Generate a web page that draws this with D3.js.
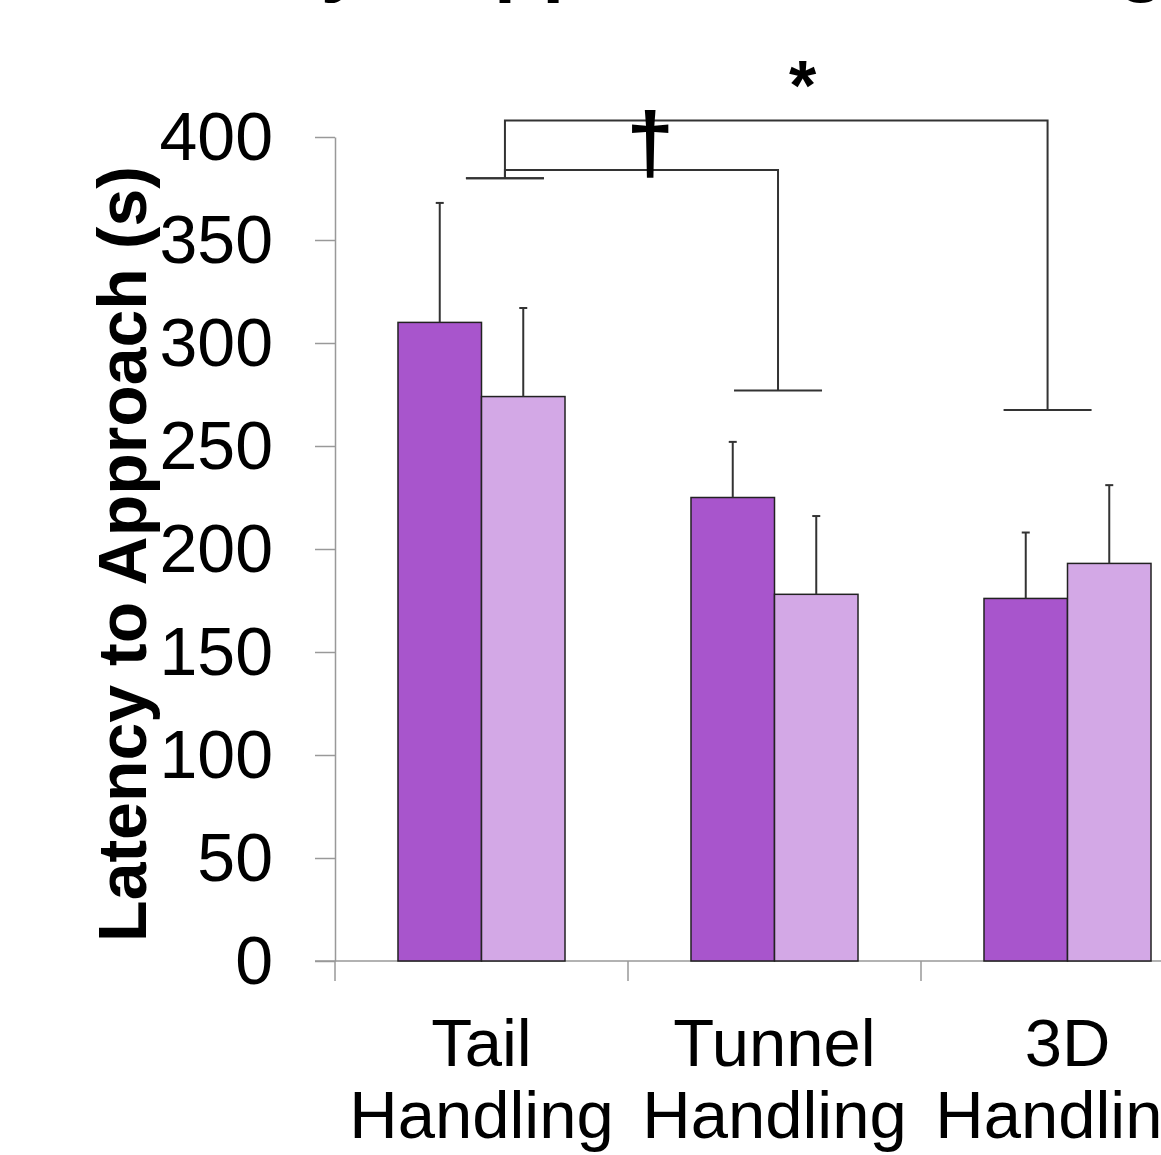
<!DOCTYPE html>
<html>
<head>
    <script src="https://d3js.org/d3.v7.min.js" charset="utf-8"></script>
    <style>
        body { margin: 0; background: #fff; }
        svg { display: block; font-family: "Liberation Sans", Arial, sans-serif; }
    </style>
</head>
<body>
<script>
    // values
    const categories = ["Tail Handling", "Tunnel Handling", "3D Handling"];
    const categoryLines = [["Tail", "Handling"], ["Tunnel", "Handling"], ["3D", "Handling"]];
    const seriesNames = ["Group 1", "Group 2"];
    const meansGroup1 = [310, 225, 176];
    const meansGroup2 = [274, 178, 193];
    const errGroup1 = [58, 27, 32];
    const errGroup2 = [43, 38, 38];
    const yTicks = [0, 50, 100, 150, 200, 250, 300, 350, 400];
    const yLabel = "Latency to Approach (s)";
    const titleWords = ["Latency", "Approach Handling"];

    // significance brackets (levels in seconds)
    const bracketFrom = ["Tail Handling", "Tail Handling"];
    const bracketTo = ["Tunnel Handling", "3D Handling"];
    const bracketTop = [384, 408];
    const bracketFootFrom = [380, 380];
    const bracketFootTo = [277, 267.5];
    const bracketMarks = ["\u2020", "*"];

    const colors = ["#a855cc", "#d3a8e6"];
    const W = 1161, H = 1155;
    const margin = {left: 335, top: 137, bottom: 194};

    const rows = categories.map((c, i) => ({
        cat: c,
        vals: [
            {s: seriesNames[0], v: meansGroup1[i], e: errGroup1[i]},
            {s: seriesNames[1], v: meansGroup2[i], e: errGroup2[i]}
        ]
    }));

    const svg = d3.select("body").append("svg")
        .attr("width", W).attr("height", H);

    const y = d3.scaleLinear().domain([0, 400]).range([H - margin.bottom, margin.top]);
    const x = d3.scaleBand().domain(categories).range([margin.left, margin.left + 3 * 293]);
    const bw = x.bandwidth();
    const x1 = d3.scaleBand().domain(seriesNames).range([bw * 0.215, bw * 0.785]);

    // title, almost all of it above the top edge
    const title = svg.append("text")
        .attr("y", -14)
        .style("font-weight", "bold")
        .style("font-size", "79px");
    title.append("tspan").attr("x", 66).text(titleWords[0]);
    title.append("tspan").attr("x", 437).text(titleWords[1]);

    // y axis
    const yAxis = svg.append("g")
        .attr("transform", `translate(${margin.left},0)`)
        .call(d3.axisLeft(y).tickValues(yTicks).tickSize(20).tickSizeOuter(0).tickPadding(42));
    yAxis.selectAll("path, line").attr("stroke", "#999").attr("stroke-width", 1.5);
    yAxis.selectAll("text")
        .style("font-size", "68px")
        .style("font-family", "'Liberation Sans', Arial, sans-serif")
        .attr("fill", "#000")
        .attr("dy", "0.33em");

    svg.append("text")
        .attr("transform", `translate(146,${(y(0) + y(400)) / 2 + 5}) rotate(-90)`)
        .attr("text-anchor", "middle")
        .style("font-size", "68px")
        .style("font-weight", "bold")
        .text(yLabel);

    // x axis
    const y0 = y(0);
    svg.append("line")
        .attr("x1", margin.left - 20).attr("x2", W)
        .attr("y1", y0).attr("y2", y0)
        .attr("stroke", "#999").attr("stroke-width", 1.5);
    svg.selectAll("line.xtick").data(categories).join("line")
        .attr("class", "xtick")
        .attr("x1", d => x(d)).attr("x2", d => x(d))
        .attr("y1", y0).attr("y2", y0 + 20)
        .attr("stroke", "#999").attr("stroke-width", 1.5);

    const xl = svg.selectAll("text.xlab").data(categories).join("text")
        .attr("class", "xlab")
        .attr("text-anchor", "middle")
        .style("font-size", "67px");
    xl.selectAll("tspan").data((d, i) => categoryLines[i].map(t => ({t, c: d}))).join("tspan")
        .attr("x", d => x(d.c) + bw / 2)
        .attr("y", (d, j) => 1066 + j * 72)
        .text(d => d.t);

    // bars
    const g = svg.selectAll("g.grp").data(rows).join("g")
        .attr("class", "grp")
        .attr("transform", d => `translate(${x(d.cat)},0)`);

    g.selectAll("rect").data(d => d.vals).join("rect")
        .attr("x", d => x1(d.s))
        .attr("width", x1.bandwidth())
        .attr("y", d => y(d.v))
        .attr("height", d => y0 - y(d.v))
        .attr("fill", (d, i) => colors[i])
        .attr("stroke", "#222").attr("stroke-width", 1.5);

    // error bars (upper only)
    g.selectAll("line.err").data(d => d.vals).join("line")
        .attr("class", "err")
        .attr("x1", d => x1(d.s) + x1.bandwidth() / 2)
        .attr("x2", d => x1(d.s) + x1.bandwidth() / 2)
        .attr("y1", d => y(d.v)).attr("y2", d => y(d.v + d.e))
        .attr("stroke", "#333").attr("stroke-width", 2);
    g.selectAll("line.cap").data(d => d.vals).join("line")
        .attr("class", "cap")
        .attr("x1", d => x1(d.s) + x1.bandwidth() / 2 - 4)
        .attr("x2", d => x1(d.s) + x1.bandwidth() / 2 + 4)
        .attr("y1", d => y(d.v + d.e)).attr("y2", d => y(d.v + d.e))
        .attr("stroke", "#333").attr("stroke-width", 2);

    // brackets
    const footShift = {"Tail Handling": 0.08, "Tunnel Handling": 0.012, "3D Handling": -0.068};
    const footHalf = 42;
    const markShift = [0.03, 0.09];
    const cx = c => x(c) + bw / 2 + footShift[c] * bw;

    bracketFrom.forEach((from, i) => {
        const xa = cx(from), xb = cx(bracketTo[i]);
        const yt = y(bracketTop[i]);
        const b = svg.append("g").attr("stroke", "#333").attr("stroke-width", 2).attr("fill", "none");
        b.append("path").attr("d",
            `M${xa},${y(bracketFootFrom[i])}V${yt}H${xb}V${y(bracketFootTo[i])}`);
        b.append("line")
            .attr("x1", xa - footHalf + 3).attr("x2", xa + footHalf - 3)
            .attr("y1", y(bracketFootFrom[i])).attr("y2", y(bracketFootFrom[i]));
        b.append("line")
            .attr("x1", xb - footHalf - 2).attr("x2", xb + footHalf + 2)
            .attr("y1", y(bracketFootTo[i])).attr("y2", y(bracketFootTo[i]));
    });

    // marks
    svg.append("text")
        .attr("x", (cx(bracketFrom[0]) + cx(bracketTo[0])) / 2 + markShift[0] * bw)
        .attr("y", 172)
        .attr("text-anchor", "middle")
        .style("font-size", "86px").style("font-weight", "bold")
        .text(bracketMarks[0]);
    svg.append("text")
        .attr("x", (cx(bracketFrom[1]) + cx(bracketTo[1])) / 2 + markShift[1] * bw)
        .attr("y", 110)
        .attr("text-anchor", "middle")
        .style("font-size", "70px").style("font-weight", "bold")
        .text(bracketMarks[1]);
</script>
</body>
</html>
